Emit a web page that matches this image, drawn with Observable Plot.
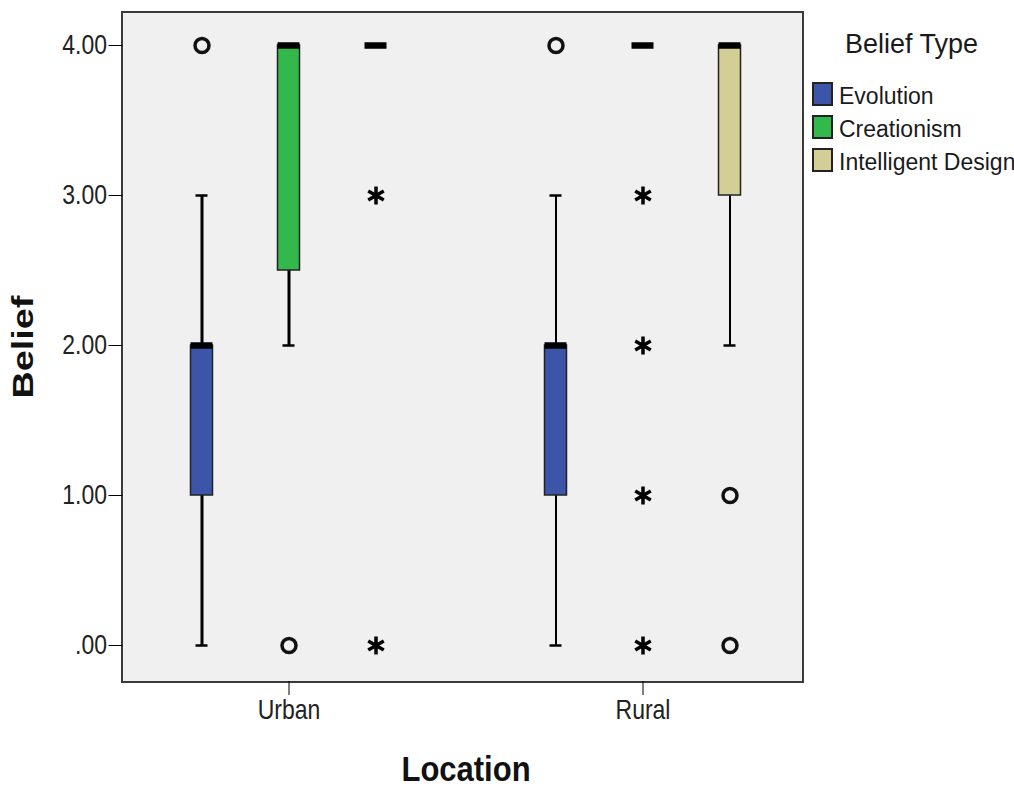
<!DOCTYPE html>
<html>
<head>
<meta charset="utf-8">
<script src="https://cdn.jsdelivr.net/npm/d3@7"></script>
<script src="https://cdn.jsdelivr.net/npm/@observablehq/plot@0.6"></script>
<style>
  body { margin: 0; background: #fff; }
  #wrap { position: relative; width: 1014px; height: 789px; overflow: hidden; }
  #wrap svg { position: absolute; left: 0; top: 0; overflow: visible; }
  g[aria-label="y-axis tick label"], g[aria-label="fx-axis tick label"] {
    font-family: "Liberation Sans", Arial, sans-serif;
    font-size: 23px; fill: #222;
  }
  g[aria-label="y-axis label"], g[aria-label="fx-axis label"] {
    font-family: "Liberation Sans", Arial, sans-serif; font-weight: bold; fill: #111;
  }
  g[aria-label="y-axis label"] { font-size: 30px; }
  g[aria-label="fx-axis label"] { font-size: 31px; }
  .legend { position: absolute; left: 0; top: 0; font-family: "Liberation Sans", Arial, sans-serif; color: #1a1a1a; }
  .ltitle { position: absolute; left: 845px; top: 29px; font-size: 27px; white-space: nowrap; line-height: 30px; }
  .sw { position: absolute; left: 812px; width: 17px; height: 20px; border: 2px solid #222; }
  .lt { position: absolute; left: 839px; font-size: 23px; line-height: 24px; white-space: nowrap; }
</style>
</head>
<body>
<div id="wrap"></div>
<script>
// ---- data ----
const locations = ["Urban", "Rural"];
const beliefTypes = ["Evolution", "Creationism", "Intelligent Design"];
const typeColors = ["#3d55a8", "#33b84b", "#d3ce96"];
const yTicks = [0, 1, 2, 3, 4];

// box summaries (one per location x belief type)
const groupLocation = ["Urban", "Urban", "Urban", "Rural", "Rural", "Rural"];
const groupType = ["Evolution", "Creationism", "Intelligent Design", "Evolution", "Creationism", "Intelligent Design"];
const whiskerLow = [0, 2, 4, 0, 4, 2];
const q1 = [1, 2.5, 4, 1, 4, 3];
const medians = [2, 4, 4, 2, 4, 4];
const q3 = [2, 4, 4, 2, 4, 4];
const whiskerHigh = [3, 4, 4, 3, 4, 4];

// outliers (circles)
const outlierLocation = ["Urban", "Urban", "Rural", "Rural", "Rural"];
const outlierType = ["Evolution", "Creationism", "Evolution", "Intelligent Design", "Intelligent Design"];
const outlierValue = [4, 0, 4, 1, 0];

// extreme values (stars)
const extremeLocation = ["Urban", "Urban", "Rural", "Rural", "Rural", "Rural"];
const extremeType = ["Intelligent Design", "Intelligent Design", "Creationism", "Creationism", "Creationism", "Creationism"];
const extremeValue = [3, 0, 3, 2, 1, 0];

// ---- tables ----
const groups = groupLocation.map((loc, i) => ({
  location: loc, type: groupType[i], low: whiskerLow[i], q1: q1[i],
  median: medians[i], q3: q3[i], high: whiskerHigh[i]
}));
const outliers = outlierLocation.map((loc, i) => ({location: loc, type: outlierType[i], value: outlierValue[i]}));
const extremes = extremeLocation.map((loc, i) => ({location: loc, type: extremeType[i], value: extremeValue[i]}));
const whiskered = groups.filter(d => d.low < d.high);
const boxed = groups.filter(d => d.q1 < d.q3);

const ML = 128.5, MR = 212, MT = 12, MB = 108;

const plot = Plot.plot({
  width: 1014,
  height: 789,
  marginLeft: ML, marginRight: MR, marginTop: MT, marginBottom: MB,
  style: {background: "transparent", fontFamily: "Liberation Sans, Arial, sans-serif", overflow: "visible"},
  fx: {domain: locations, paddingInner: 0.1, paddingOuter: 0, axis: null, label: null},
  x: {domain: beliefTypes, paddingInner: 0.748, paddingOuter: 0.701, axis: null, label: null},
  y: {domain: [-0.24, 4.22], axis: null, label: null},
  color: {domain: beliefTypes, range: typeColors},
  marks: [
    Plot.axisY(yTicks, {
      anchor: "left", tickSize: 14, tickPadding: 2, dx: -6.5,
      tickFormat: d => d3.format(".2f")(d).replace(/^0\./, "."),
      label: "Belief", labelArrow: "none", labelAnchor: "center", labelOffset: 118
    }),
    Plot.axisFx({
      anchor: "bottom", tickSize: 14, tickPadding: 4,
      label: "Location", labelArrow: "none", labelAnchor: "center", labelOffset: 99
    }),
    Plot.ruleX(whiskered, {
      fx: "location", x: "type", y1: "low", y2: "high", stroke: "#000",
      strokeWidth: d => d.location === "Urban" ? 3 : 2
    }),
    Plot.tickY(whiskered, {fx: "location", x: "type", y: "low", insetLeft: 5, insetRight: 5, stroke: "#000", strokeWidth: 2.5}),
    Plot.tickY(whiskered, {fx: "location", x: "type", y: "high", insetLeft: 5, insetRight: 5, stroke: "#000", strokeWidth: 2.5}),
    Plot.barY(boxed, {fx: "location", x: "type", y1: "q1", y2: "q3", fill: "type", stroke: "#222", strokeWidth: 1.5}),
    Plot.tickY(groups, {fx: "location", x: "type", y: "median", stroke: "#000", strokeWidth: 6.5}),
    Plot.dot(outliers, {fx: "location", x: "type", y: "value", r: 7, stroke: "#111", strokeWidth: 3.5, fill: "none"}),
    Plot.dot(extremes, {fx: "location", x: "type", y: "value", symbol: "asterisk", r: 8.5, stroke: "#000", strokeWidth: 3.5})
  ]
});

// plot-area background and frame (layout, not data)
d3.select(plot).insert("rect", ":first-child")
  .attr("x", ML - 6.5).attr("y", MT)
  .attr("width", 1014 - MR - (ML - 6.5) + 1).attr("height", 789 - MB - MT + 1)
  .attr("fill", "#f0f0f0").attr("stroke", "#3a3a3a").attr("stroke-width", 2);

// the reference's lettering is drawn taller than usual: stretch the glyphs
function stretch(sel, sx, sy) {
  d3.select(plot).selectAll(sel).each(function () {
    const t = this.getAttribute("transform") || "";
    this.setAttribute("transform", t + ` scale(${sx},${sy})`);
  });
}
stretch('g[aria-label="y-axis tick label"] text', 1, 1.2);
stretch('g[aria-label="fx-axis tick label"] text', 1, 1.2);
stretch('g[aria-label="fx-axis label"] text', 1, 1.13);
stretch('g[aria-label="y-axis label"] text', 1.26, 1);

const wrap = document.getElementById("wrap");
wrap.appendChild(plot);

// legend
const legend = d3.select(wrap).append("div").attr("class", "legend");
legend.append("div").attr("class", "ltitle").text("Belief Type");
beliefTypes.forEach((t, i) => {
  legend.append("div").attr("class", "sw").style("top", (82 + i * 33) + "px").style("background", typeColors[i]);
  legend.append("div").attr("class", "lt").style("top", (84 + i * 33) + "px").text(t);
});
</script>
</body>
</html>
